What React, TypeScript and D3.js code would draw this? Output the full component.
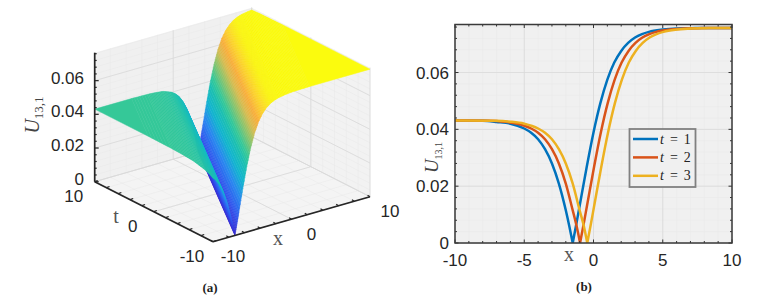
import React from 'react';
import * as d3 from 'd3';

// panel (b): curves, one x list per curve so the dip is a knot
const xT1 = [-10, -8, -7, -6, -5, -4.5, -4, -3.5, -3, -2.5, -2, -1.75, -1.5, -1.25, -1, -0.5, 0, 0.5, 1, 1.5, 2, 2.5, 3, 3.5, 4, 5, 6, 7, 8, 10];
const uT1 = [0.0431, 0.043, 0.0426, 0.042, 0.0403, 0.0388, 0.0365, 0.033, 0.028, 0.0209, 0.0115, 0.006, 0, 0.0064, 0.0131, 0.0265, 0.0389, 0.0493, 0.0575, 0.0635, 0.0676, 0.0704, 0.0723, 0.0735, 0.0743, 0.0751, 0.0755, 0.0756, 0.0757, 0.0757];
const xT2 = [-10, -7.5, -6.5, -5.5, -4.5, -4, -3.5, -3, -2.5, -2, -1.5, -1.22, -0.97, -0.72, -0.47, 0.03, 0.53, 1.03, 1.53, 2.03, 2.53, 3.03, 3.53, 4.03, 4.53, 5.53, 6.53, 7.5, 8.5, 10];
const uT2 = [0.0431, 0.043, 0.0427, 0.042, 0.0403, 0.0388, 0.0365, 0.033, 0.028, 0.0209, 0.0115, 0.006, 0, 0.0064, 0.0131, 0.0265, 0.0389, 0.0493, 0.0575, 0.0635, 0.0676, 0.0704, 0.0723, 0.0735, 0.0743, 0.0751, 0.0755, 0.0756, 0.0757, 0.0757];
const xT3 = [-10, -7, -6, -5, -4, -3.5, -3, -2.5, -2, -1.5, -1, -0.7, -0.45, -0.2, 0.05, 0.55, 1.05, 1.55, 2.05, 2.55, 3.05, 3.55, 4.05, 4.55, 5.05, 6.05, 7.05, 8, 9, 10];
const uT3 = [0.0431, 0.043, 0.0427, 0.042, 0.0403, 0.0388, 0.0365, 0.033, 0.028, 0.0209, 0.0115, 0.006, 0, 0.0064, 0.0131, 0.0265, 0.0389, 0.0493, 0.0575, 0.0635, 0.0676, 0.0704, 0.0723, 0.0735, 0.0743, 0.0751, 0.0755, 0.0756, 0.0757, 0.0757];
const seriesLabels = ['1', '2', '3'];
const seriesColors = ['#0072BD', '#D95319', '#EDB120'];

const xTicksB = [-10, -5, 0, 5, 10];
const yTicksB = [0, 0.02, 0.04, 0.06];

// panel (a): cross-section of the sheet, measured from the dip, and where the dip sits at each end of t
const profileS = [-24, -8.5, -6.5, -5.5, -4.5, -3.5, -3, -2.5, -2, -1.5, -1, -0.5, -0.25, 0, 0.25, 0.5, 1, 1.5, 2, 2.5, 3, 3.5, 4, 4.5, 5, 5.5, 6.5, 7.5, 8.5, 9.5, 24];
const profileU = [0.0431, 0.0431, 0.0429, 0.0426, 0.042, 0.0403, 0.0388, 0.0365, 0.033, 0.028, 0.0209, 0.0115, 0.006, 0, 0.0064, 0.0131, 0.0265, 0.0389, 0.0493, 0.0575, 0.0635, 0.0676, 0.0704, 0.0723, 0.0735, 0.0743, 0.0751, 0.0755, 0.0756, 0.0757, 0.0757];
const dipT = [-10, 10];
const dipX = [-7.2, 3.2];

const axisTicks3d = [-10, 0, 10];
const zTicks3d = [0, 0.02, 0.04, 0.06];

const colorStops = [0, 0.12, 0.25, 0.38, 0.5, 0.57, 0.68, 0.76, 0.83, 0.9, 0.96, 1];
const colorValues = ['#3a2bd0', '#2f55ee', '#2a86f0', '#12b4d0', '#1cc0b0', '#35c898', '#8fc46a', '#d9bc50', '#f9ae3c', '#fcd42a', '#fbf511', '#fbfb0e'];

const ink = '#262626';
const wall = '#f0f0f0';
const gridMajor = '#d9d9d9';
const gridMinor = '#e8e8e8';

const color = d3.scaleLinear<string>().domain(colorStops.map((d) => d * 0.0757)).range(colorValues).clamp(true);

const xDX = d3.scaleLinear().domain([-10, 10]).range([0, 157]);
const xDY = d3.scaleLinear().domain([-10, 10]).range([0, -45]);
const tDX = d3.scaleLinear().domain([-10, 10]).range([0, -118.3]);
const tDY = d3.scaleLinear().domain([-10, 10]).range([0, -60]);
const zDY = d3.scaleLinear().domain([0, 0.0766]).range([0, -129]);
const dipAt = d3.scaleLinear().domain(dipT).range(dipX);

type P3 = [number, number, number];

const project = ([x, t, z]: P3): [number, number] => [
  213 + xDX(x) + tDX(t),
  241.7 + xDY(x) + tDY(t) + zDY(z),
];

const outline = d3.line().curve(d3.curveLinearClosed);
const segment = (a: P3, b: P3) => d3.line()([project(a), project(b)]) as string;

// keep the part of a facet on one side of an x limit
const clipX = (poly: P3[], limit: number, keep: (x: number) => boolean) => {
  const out: P3[] = [];
  poly.forEach((a, i) => {
    const b = poly[(i + 1) % poly.length];
    if (keep(a[0])) out.push(a);
    if (keep(a[0]) !== keep(b[0])) {
      const f = (limit - a[0]) / (b[0] - a[0]);
      out.push([limit, a[1] + f * (b[1] - a[1]), a[2] + f * (b[2] - a[2])]);
    }
  });
  return out;
};

// far strips first; each profile step is split so the colour runs smoothly (shading interp)
const facets: { d: string; fill: string }[] = [];
for (let j = profileS.length - 2; j >= 0; j--) {
  const steps = profileU[j] === profileU[j + 1] ? 1 : 6;
  for (let k = steps - 1; k >= 0; k--) {
    const s0 = profileS[j] + ((profileS[j + 1] - profileS[j]) * k) / steps;
    const s1 = profileS[j] + ((profileS[j + 1] - profileS[j]) * (k + 1)) / steps;
    const u0 = profileU[j] + ((profileU[j + 1] - profileU[j]) * k) / steps;
    const u1 = profileU[j] + ((profileU[j + 1] - profileU[j]) * (k + 1)) / steps;
    let poly: P3[] = [
      [dipAt(-10) + s0, -10, u0],
      [dipAt(-10) + s1, -10, u1],
      [dipAt(10) + s1, 10, u1],
      [dipAt(10) + s0, 10, u0],
    ];
    poly = clipX(poly, -10, (x) => x >= -10);
    if (poly.length) poly = clipX(poly, 10, (x) => x <= 10);
    if (poly.length > 2) {
      facets.push({ d: outline(poly.map(project)) as string, fill: color((u0 + u1) / 2) });
    }
  }
}

const minorX = d3.range(-10, 10.01, 2);
const minorZ = d3.range(0, 0.0761, 0.004);
const zTop = 0.0766;

const UTitle = ({ x, y, size, subSize }: { x: number; y: number; size: number; subSize: number }) => (
  <text transform={`translate(${x},${y}) rotate(-90)`} textAnchor="middle" fill="#444" fontFamily="'Liberation Serif', serif">
    <tspan fontStyle="italic" fontSize={size}>U</tspan>
    <tspan fontSize={subSize} dy={3.5}>13,1</tspan>
  </text>
);

const Panel3d = () => {
  const gridLine = (k: string, a: P3, b: P3, major: boolean) => (
    <path key={k} d={segment(a, b)} stroke={major ? gridMajor : gridMinor} strokeWidth={major ? 0.8 : 0.5} fill="none" />
  );
  return (
    <g>
      <path d={outline([[-10, 10, 0], [10, 10, 0], [10, 10, zTop], [-10, 10, zTop]].map((p) => project(p as P3))) as string} fill={wall} />
      <path d={outline([[10, 10, 0], [10, -10, 0], [10, -10, zTop], [10, 10, zTop]].map((p) => project(p as P3))) as string} fill="#f2f2f2" />
      <path d={outline([[-10, -10, 0], [10, -10, 0], [10, 10, 0], [-10, 10, 0]].map((p) => project(p as P3))) as string} fill="#f4f4f4" />
      {minorX.map((v) => (
        <g key={v}>
          {gridLine(`a${v}`, [v, 10, 0], [v, 10, zTop], false)}
          {gridLine(`b${v}`, [10, v, 0], [10, v, zTop], false)}
          {gridLine(`c${v}`, [v, -10, 0], [v, 10, 0], false)}
          {gridLine(`d${v}`, [-10, v, 0], [10, v, 0], false)}
        </g>
      ))}
      {minorZ.map((v) => (
        <g key={v}>
          {gridLine(`e${v}`, [-10, 10, v], [10, 10, v], false)}
          {gridLine(`f${v}`, [10, -10, v], [10, 10, v], false)}
        </g>
      ))}
      {axisTicks3d.map((v) => (
        <g key={v}>
          {gridLine(`g${v}`, [v, 10, 0], [v, 10, zTop], true)}
          {gridLine(`h${v}`, [10, v, 0], [10, v, zTop], true)}
          {gridLine(`i${v}`, [v, -10, 0], [v, 10, 0], true)}
          {gridLine(`j${v}`, [-10, v, 0], [10, v, 0], true)}
        </g>
      ))}
      {zTicks3d.map((v) => (
        <g key={v}>
          {gridLine(`k${v}`, [-10, 10, v], [10, 10, v], true)}
          {gridLine(`l${v}`, [10, -10, v], [10, 10, v], true)}
        </g>
      ))}

      {facets.map((f, i) => (
        <path key={i} d={f.d} fill={f.fill} stroke={f.fill} strokeWidth={0.5} />
      ))}

      <g stroke={ink} fill="none">
        <path d={segment([-10, 10, 0], [-10, 10, zTop])} strokeWidth={1.7} />
        <path d={segment([-10, 10, 0], [-10, -10, 0])} strokeWidth={1.7} />
        <path d={segment([-10, -10, 0], [10, -10, 0])} strokeWidth={1.7} />
        {minorZ.map((v) => {
          const [px, py] = project([-10, 10, v]);
          return <path key={v} d={`M${px},${py}h${zTicks3d.some((m) => Math.abs(m - v) < 1e-6) ? 4 : 2}`} strokeWidth={1.2} />;
        })}
        {minorX.map((v) => {
          const [ax, ay] = project([-10, v, 0]);
          const [bx, by] = project([v, -10, 0]);
          return (
            <g key={v}>
              <path d={`M${ax},${ay}l3,-1.2`} strokeWidth={1.3} />
              <path d={`M${bx},${by}l-2.4,-1.5`} strokeWidth={1.3} />
            </g>
          );
        })}
      </g>

      <g fill={ink} fontFamily="'Liberation Sans', Arial, sans-serif" fontSize={17}>
        {zTicks3d.map((v) => (
          <text key={v} x={84} y={project([-10, 10, v])[1] - 1.5} textAnchor="end" dominantBaseline="middle">{v === 0 ? '0' : v.toFixed(2)}</text>
        ))}
        {axisTicks3d.map((v) => {
          const [ax, ay] = project([-10, v, 0]);
          const [bx, by] = project([v, -10, 0]);
          return (
            <g key={v} textAnchor="middle" dominantBaseline="middle">
              <text x={ax - 21} y={ay + 15.5}>{v}</text>
              <text x={bx + 20} y={by + 16}>{v}</text>
            </g>
          );
        })}
      </g>
      <g fill="#555" fontFamily="'Liberation Serif', serif" fontSize={20} textAnchor="middle">
        <text x={116} y={223}>t</text>
        <text x={278} y={245}>x</text>
      </g>
      <UTitle x={39} y={115} size={20} subSize={13} />
      <text x={210} y={292} textAnchor="middle" fontFamily="'Liberation Serif', serif" fontWeight="bold" fontSize={13} fill="#222">(a)</text>
    </g>
  );
};

const xB = d3.scaleLinear().domain([-10, 10]).range([455, 732]);
const yB = d3.scaleLinear().domain([0, 0.0769]).range([243, 24.5]);

const curveB = d3
  .line<[number, number]>()
  .x((d) => xB(d[0]))
  .y((d) => yB(d[1]))
  .curve(d3.curveMonotoneX);

// the two branches are drawn separately so the dip stays a sharp V
const curvePath = (xs: number[], us: number[]) => {
  const pts = xs.map((x, i) => [x, us[i]] as [number, number]);
  const dip = us.indexOf(0);
  return `${curveB(pts.slice(0, dip + 1))}${curveB(pts.slice(dip))}`;
};

const PanelB = () => {
  const seriesX = [xT1, xT2, xT3];
  const seriesU = [uT1, uT2, uT3];
  const minorXB = d3.range(-10, 10.01, 1);
  const minorYB = d3.range(0, 0.0769, 0.004);
  return (
    <g>
      <rect x={455} y={24.5} width={277} height={218.5} fill={wall} />
      <g stroke={gridMinor} strokeWidth={0.5}>
        {minorXB.map((v) => <line key={v} x1={xB(v)} x2={xB(v)} y1={24.5} y2={243} />)}
        {minorYB.map((v) => <line key={v} x1={455} x2={732} y1={yB(v)} y2={yB(v)} />)}
      </g>
      <g stroke={gridMajor} strokeWidth={0.8}>
        {xTicksB.map((v) => <line key={v} x1={xB(v)} x2={xB(v)} y1={24.5} y2={243} />)}
        {yTicksB.map((v) => <line key={v} x1={455} x2={732} y1={yB(v)} y2={yB(v)} />)}
      </g>
      <clipPath id="plot-b"><rect x={455} y={24.5} width={277} height={218.5} /></clipPath>
      <g clipPath="url(#plot-b)" fill="none" strokeWidth={2.5}>
        {seriesX.map((xs, i) => (
          <path key={i} d={curvePath(xs, seriesU[i])} stroke={seriesColors[i]} />
        ))}
      </g>
      <g stroke="#333" strokeWidth={1}>
        {minorXB.map((v) => {
          const len = xTicksB.includes(v) ? 3.5 : 2;
          return (
            <g key={v}>
              <line x1={xB(v)} x2={xB(v)} y1={243} y2={243 - len} />
              <line x1={xB(v)} x2={xB(v)} y1={24.5} y2={24.5 + len} />
            </g>
          );
        })}
        {minorYB.map((v) => {
          const len = yTicksB.some((m) => Math.abs(m - v) < 1e-6) ? 3.5 : 2;
          return (
            <g key={v}>
              <line x1={455} x2={455 + len} y1={yB(v)} y2={yB(v)} />
              <line x1={732} x2={732 - len} y1={yB(v)} y2={yB(v)} />
            </g>
          );
        })}
      </g>
      <rect x={455} y={24.5} width={277} height={218.5} fill="none" stroke="#3a3a3a" strokeWidth={1.5} />

      <g fill={ink} fontFamily="'Liberation Sans', Arial, sans-serif" fontSize={17}>
        {xTicksB.map((v) => (
          <text key={v} x={xB(v)} y={266} textAnchor="middle">{v}</text>
        ))}
        {yTicksB.map((v) => (
          <text key={v} x={449} y={yB(v) + 6} textAnchor="end">{v === 0 ? '0' : v.toFixed(2)}</text>
        ))}
      </g>
      <text x={569} y={261} textAnchor="middle" fill="#555" fontFamily="'Liberation Serif', serif" fontSize={20}>x</text>
      <UTitle x={438} y={157.5} size={19} subSize={10} />

      <rect x={629.5} y={129} width={66} height={58} fill={wall} stroke="#808080" strokeWidth={1.8} />
      {seriesLabels.map((label, i) => {
        const rowY = 139 + i * 18.4;
        return (
          <g key={label}>
            <line x1={633} x2={658} y1={rowY} y2={rowY} stroke={seriesColors[i]} strokeWidth={2.5} />
            <text x={660} y={rowY + 4.5} fontFamily="'Liberation Serif', serif" fontSize={14} fill="#222">
              <tspan fontStyle="italic">t</tspan>
              <tspan dx={6}>=</tspan>
              <tspan dx={6}>{label}</tspan>
            </text>
          </g>
        );
      })}
      <text x={584} y={291} textAnchor="middle" fontFamily="'Liberation Serif', serif" fontWeight="bold" fontSize={13} fill="#222">(b)</text>
    </g>
  );
};

export default function App() {
  return (
    <svg width={774} height={298} style={{ position: 'absolute', left: 0, top: 0, background: '#fff' }}>
      <Panel3d />
      <PanelB />
    </svg>
  );
}
